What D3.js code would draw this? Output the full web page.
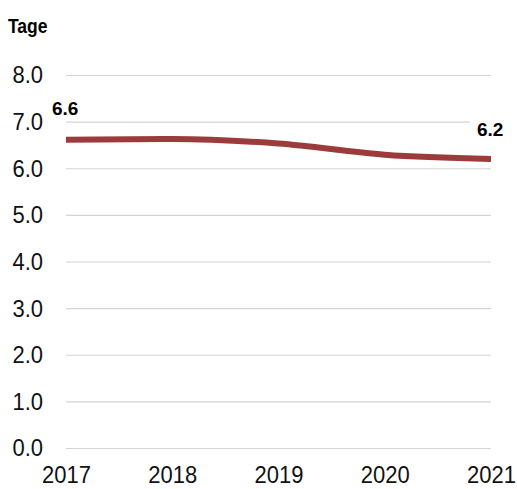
<!DOCTYPE html>
<html><head><meta charset="utf-8">
<script src="https://cdn.jsdelivr.net/npm/d3@7"></script>
<style>body{margin:0;background:#fff}svg{display:block}text{font-family:Arial,"Liberation Sans",sans-serif}</style>
</head><body>
<script>
const years = [2017, 2018, 2019, 2020, 2021];
const values = [6.61, 6.63, 6.53, 6.29, 6.2];
const yTicks = [0, 1, 2, 3, 4, 5, 6, 7, 8];
const endLabels = ["6.6", "6.2"];

const W = 517, H = 489;
const SY = 1.12;
const svg = d3.select("body").append("svg").attr("width", W).attr("height", H);
const x = d3.scalePoint().domain(years).range([66, 491]);
const y = d3.scaleLinear().domain([0, 8]).range([448, 75]);

svg.append("text").attr("x", 8).attr("y", 32.7 / 1.18).attr("transform", "scale(1,1.18)")
  .attr("font-size", 17.5).attr("font-weight", "bold").attr("fill", "#000").text("Tage");

const yAxis = svg.append("g").attr("transform", "translate(66,0)")
  .call(d3.axisLeft(y).tickValues(yTicks).tickSize(-425).tickPadding(23).tickFormat(d3.format(".1f")));
yAxis.select(".domain").remove();
yAxis.selectAll(".tick line").attr("stroke", "#d4d4d4").attr("stroke-width", 1.2);
yAxis.selectAll(".tick text").attr("font-size", 22).attr("fill", "#111")
  .attr("font-family", "Arial, 'Liberation Sans', sans-serif")
  .attr("transform", `scale(1,${SY})`);

const xAxis = svg.append("g").attr("transform", "translate(0,448)")
  .call(d3.axisBottom(x).tickSize(0));
xAxis.select(".domain").remove();
xAxis.selectAll(".tick text").attr("font-size", 22).attr("fill", "#111")
  .attr("font-family", "Arial, 'Liberation Sans', sans-serif")
  .attr("dy", 0).attr("y", 35.5 / SY).attr("transform", `scale(1,${SY})`);

const labG = svg.append("g");
const lab1 = labG.append("text").attr("x", x(years[0]) - 14).attr("y", y(values[0]) - 25)
  .attr("font-size", 19).attr("font-weight", "bold").attr("fill", "#000").text(endLabels[0]);
const lab2 = labG.append("text").attr("x", x(years[4]) - 14).attr("y", y(values[4]) - 23)
  .attr("font-size", 19).attr("font-weight", "bold").attr("fill", "#000").text(endLabels[1]);
[lab1, lab2].forEach(t => {
  const b = t.node().getBBox();
  labG.insert("rect", "text").attr("x", b.x - 7).attr("y", b.y - 2).attr("width", b.width + 14).attr("height", b.height + 4).attr("fill", "#fff");
});

svg.append("path").datum(years.map((d, i) => [d, values[i]]))
  .attr("fill", "none").attr("stroke", "#9b3b3b").attr("stroke-width", 6)
  .attr("d", d3.line().x(d => x(d[0])).y(d => y(d[1])).curve(d3.curveMonotoneX));
</script>
</body></html>
